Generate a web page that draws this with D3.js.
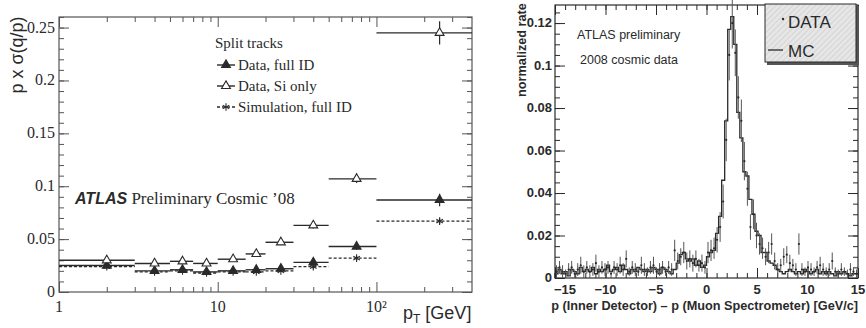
<!DOCTYPE html>
<html>
<head>
<meta charset="utf-8">
<script src="https://cdn.jsdelivr.net/npm/d3@7"></script>
<style>
body { margin: 0; background: #fff; }
svg { display: block; }
</style>
</head>
<body>
<svg id="chart" width="866" height="328"></svg>
<script>
// ---- left panel: momentum resolution of split tracks ----
var ptEdges = [1, 3, 5, 7, 10, 15, 20, 30, 50, 100, 400];
var dataFullId    = [0.025, 0.020, 0.021, 0.019, 0.020, 0.021, 0.022, 0.028, 0.043, 0.087];
var dataFullIdErr = [0.001, 0.001, 0.001, 0.001, 0.001, 0.001, 0.002, 0.002, 0.003, 0.006];
var dataSiOnly    = [0.030, 0.027, 0.029, 0.027, 0.031, 0.036, 0.047, 0.063, 0.107, 0.245];
var dataSiOnlyErr = [0.001, 0.001, 0.001, 0.001, 0.001, 0.002, 0.002, 0.003, 0.004, 0.011];
var simFullId     = [0.024, 0.019, 0.020, 0.018, 0.019, 0.019, 0.020, 0.024, 0.032, 0.067];
var simFullIdErr  = [0.001, 0.001, 0.001, 0.001, 0.001, 0.001, 0.001, 0.002, 0.002, 0.003];
var leftYTicks = [0, 0.05, 0.1, 0.15, 0.2, 0.25];
var leftYTickLabels = ["0", "0.05", "0.1", "0.15", "0.2", "0.25"];
var leftXTicks = [1, 10, 100];
var leftXTickLabels = ["1", "10", "10\u00b2"];
var leftLegendLabels = ["Data, full ID", "Data, Si only", "Simulation, full ID"];

// ---- right panel: p(ID) - p(MS) ----
var diffStart = -15;
var diffBinWidth = 0.3;
var mcRate = [
  0.002, 0.004, 0.002, 0.003, 0.001, 0.004, 0.003, 0.002, 0.005, 0.003,
  0.004, 0.003, 0.005, 0.002, 0.004, 0.003, 0.004, 0.006, 0.003, 0.004,
  0.005, 0.003, 0.006, 0.004, 0.002, 0.004, 0.003, 0.005, 0.004, 0.003,
  0.004, 0.003, 0.005, 0.004, 0.002, 0.005, 0.004, 0.003, 0.002, 0.004,
  0.007, 0.011, 0.012, 0.009, 0.008, 0.009, 0.006, 0.008, 0.005, 0.006,
  0.010, 0.012, 0.013, 0.021, 0.029, 0.046, 0.074, 0.117, 0.123, 0.110,
  0.078, 0.066, 0.050, 0.048, 0.037, 0.030, 0.022, 0.020, 0.012, 0.012,
  0.008, 0.007, 0.006, 0.004, 0.003, 0.002, 0.003, 0.004, 0.003, 0.002,
  0.003, 0.002, 0.004, 0.003, 0.002, 0.003, 0.004, 0.002, 0.003, 0.002,
  0.003, 0.002, 0.001, 0.003, 0.002, 0.003, 0.002, 0.001, 0.002, 0.002
];
var dataRate = [
  0.003, 0.005, 0.003, 0.002, 0.004, 0.005, 0.002, 0.004, 0.006, 0.003,
  0.005, 0.003, 0.004, 0.007, 0.003, 0.005, 0.004, 0.005, 0.002, 0.005,
  0.004, 0.006, 0.004, 0.009, 0.003, 0.005, 0.004, 0.003, 0.006, 0.004,
  0.003, 0.005, 0.006, 0.003, 0.004, 0.005, 0.003, 0.005, 0.004, 0.013,
  0.008, 0.010, 0.012, 0.008, 0.009, 0.007, 0.009, 0.006, 0.007, 0.005,
  0.012, 0.013, 0.014, 0.018, 0.024, 0.036, 0.065, 0.105, 0.120, 0.106,
  0.085, 0.074, 0.055, 0.042, 0.024, 0.030, 0.020, 0.016, 0.014, 0.010,
  0.012, 0.016, 0.008, 0.004, 0.006, 0.010, 0.011, 0.007, 0.006, 0.004,
  0.016, 0.004, 0.003, 0.005, 0.004, 0.003, 0.005, 0.006, 0.004, 0.003,
  0.004, 0.008, 0.003, 0.002, 0.004, 0.003, 0.002, 0.004, 0.003, 0.002
];
var dataRateErr = [
  0.003, 0.003, 0.003, 0.002, 0.003, 0.003, 0.002, 0.003, 0.004, 0.003,
  0.003, 0.003, 0.003, 0.004, 0.003, 0.003, 0.003, 0.003, 0.002, 0.003,
  0.003, 0.004, 0.003, 0.004, 0.002, 0.003, 0.003, 0.002, 0.004, 0.003,
  0.002, 0.003, 0.004, 0.002, 0.003, 0.003, 0.002, 0.003, 0.003, 0.005,
  0.004, 0.004, 0.005, 0.004, 0.004, 0.004, 0.004, 0.003, 0.004, 0.003,
  0.005, 0.005, 0.005, 0.006, 0.007, 0.008, 0.010, 0.012, 0.012, 0.011,
  0.010, 0.010, 0.009, 0.008, 0.006, 0.007, 0.006, 0.005, 0.005, 0.004,
  0.005, 0.005, 0.004, 0.003, 0.003, 0.004, 0.004, 0.004, 0.003, 0.003,
  0.005, 0.003, 0.002, 0.003, 0.003, 0.002, 0.003, 0.004, 0.003, 0.002,
  0.003, 0.004, 0.002, 0.002, 0.003, 0.002, 0.002, 0.003, 0.002, 0.002
];
var rightXTicks = [-15, -10, -5, 0, 5, 10, 15];
var rightYTicks = [0, 0.02, 0.04, 0.06, 0.08, 0.1, 0.12];
var rightLegendLabels = ["DATA", "MC"];

var ink = "#2a2a2a";
var chart = d3.select("#chart");

// draws inward-pointing ticks on all four sides of a frame
function frameTicks(g, x, y, xMajor, xMinor, yMajor, yMinor, majLen, minLen, frameColor) {
  var x0 = x.range()[0], x1 = x.range()[1], y0 = y.range()[0], y1 = y.range()[1];
  g.append("g").attr("transform", "translate(0," + y0 + ")")
    .call(d3.axisBottom(x).tickValues(xMinor).tickSize(-minLen).tickSizeOuter(0).tickFormat(""));
  g.append("g").attr("transform", "translate(0," + y0 + ")")
    .call(d3.axisBottom(x).tickValues(xMajor).tickSize(-majLen).tickSizeOuter(0).tickFormat(""));
  g.append("g").attr("transform", "translate(0," + y1 + ")")
    .call(d3.axisTop(x).tickValues(xMinor).tickSize(-minLen).tickSizeOuter(0).tickFormat(""));
  g.append("g").attr("transform", "translate(0," + y1 + ")")
    .call(d3.axisTop(x).tickValues(xMajor).tickSize(-majLen).tickSizeOuter(0).tickFormat(""));
  g.append("g").attr("transform", "translate(" + x0 + ",0)")
    .call(d3.axisLeft(y).tickValues(yMinor).tickSize(-minLen).tickSizeOuter(0).tickFormat(""));
  g.append("g").attr("transform", "translate(" + x0 + ",0)")
    .call(d3.axisLeft(y).tickValues(yMajor).tickSize(-majLen).tickSizeOuter(0).tickFormat(""));
  g.append("g").attr("transform", "translate(" + x1 + ",0)")
    .call(d3.axisRight(y).tickValues(yMinor).tickSize(-minLen).tickSizeOuter(0).tickFormat(""));
  g.append("g").attr("transform", "translate(" + x1 + ",0)")
    .call(d3.axisRight(y).tickValues(yMajor).tickSize(-majLen).tickSizeOuter(0).tickFormat(""));
  g.selectAll(".domain").remove();
  g.selectAll(".tick line").attr("stroke", frameColor);
  g.append("rect")
    .attr("x", x0).attr("y", y1).attr("width", x1 - x0).attr("height", y0 - y1)
    .attr("fill", "none").attr("stroke", frameColor).attr("stroke-width", 1.2);
}

// ================= left panel =================
var xL = d3.scaleLog().domain([1, 400]).range([59, 472]);
var yL = d3.scaleLinear().domain([0, 0.26]).range([292, 17]);
var left = chart.append("g");

var logMinor = [];
[1, 10, 100].forEach(function(dec) {
  for (var k = 2; k <= 9; k++) if (dec * k < 400) logMinor.push(dec * k);
});
frameTicks(left, xL, yL, leftXTicks, logMinor,
  leftYTicks, d3.range(0, 0.2601, 0.01), 10, 5, "#555");

left.append("g").selectAll("text").data(leftYTicks).join("text")
  .attr("x", 55).attr("y", function(d) { return yL(d) + 5; })
  .attr("text-anchor", "end")
  .style("font", "16px 'Liberation Serif', 'DejaVu Serif', serif").attr("fill", ink)
  .text(function(d, i) { return leftYTickLabels[i]; });

left.append("g").selectAll("text").data(leftXTicks).join("text")
  .attr("x", function(d) { return xL(d); }).attr("y", 312)
  .attr("text-anchor", "middle")
  .style("font", "16px 'Liberation Serif', 'DejaVu Serif', serif").attr("fill", ink)
  .text(function(d, i) { return leftXTickLabels[i]; });

left.append("text")
  .attr("transform", "translate(23,55) rotate(-90)")
  .attr("text-anchor", "middle")
  .style("font", "18px 'Liberation Sans', Arial, sans-serif").attr("fill", ink)
  .text("p x \u03c3(q/p)");

var ptTitle = left.append("text").attr("x", 403).attr("y", 319)
  .style("font", "18px 'Liberation Sans', Arial, sans-serif").attr("fill", ink);
ptTitle.append("tspan").text("p");
ptTitle.append("tspan").attr("dy", 4).style("font-size", "12px").text("T");
ptTitle.append("tspan").attr("dy", -4).text(" [GeV]");

var atlasL = left.append("text").attr("x", 75).attr("y", 204).attr("fill", ink);
atlasL.append("tspan").style("font", "italic bold 16px 'Liberation Sans', Arial, sans-serif").text("ATLAS");
atlasL.append("tspan").style("font", "17px 'Liberation Serif', serif").text(" Preliminary Cosmic \u201908");

var leftSeries = [
  { values: dataFullId, errs: dataFullIdErr, symbol: d3.symbolTriangle, fill: ink, dash: null },
  { values: dataSiOnly, errs: dataSiOnlyErr, symbol: d3.symbolTriangle, fill: "#fff", dash: null },
  { values: simFullId, errs: simFullIdErr, symbol: d3.symbolAsterisk, fill: "none", dash: "3,2" }
];

leftSeries.forEach(function(s) {
  var g = left.append("g");
  var bins = s.values.map(function(v, i) {
    return { lo: ptEdges[i], hi: ptEdges[i + 1], v: v, e: s.errs[i] };
  });
  g.selectAll("line.h").data(bins).join("line").attr("class", "h")
    .attr("x1", function(d) { return xL(d.lo); }).attr("x2", function(d) { return xL(d.hi); })
    .attr("y1", function(d) { return yL(d.v); }).attr("y2", function(d) { return yL(d.v); })
    .attr("stroke", ink).attr("stroke-width", 1.4).attr("stroke-dasharray", s.dash);
  g.selectAll("line.v").data(bins).join("line").attr("class", "v")
    .attr("x1", function(d) { return xL((d.lo + d.hi) / 2); }).attr("x2", function(d) { return xL((d.lo + d.hi) / 2); })
    .attr("y1", function(d) { return yL(d.v - d.e); }).attr("y2", function(d) { return yL(d.v + d.e); })
    .attr("stroke", ink).attr("stroke-width", 1.2);
  g.selectAll("path").data(bins).join("path")
    .attr("transform", function(d) { return "translate(" + xL((d.lo + d.hi) / 2) + "," + yL(d.v) + ")"; })
    .attr("d", d3.symbol(s.symbol, s.symbol === d3.symbolAsterisk ? 40 : 34))
    .attr("fill", s.fill).attr("stroke", ink).attr("stroke-width", 1.1);
});

// legend
var legL = left.append("g");
legL.append("text").attr("x", 215).attr("y", 48)
  .style("font", "15px 'Liberation Serif', serif").attr("fill", ink).text("Split tracks");
leftSeries.forEach(function(s, i) {
  var ly = 65 + i * 21;
  legL.append("line").attr("x1", 217).attr("x2", 235).attr("y1", ly).attr("y2", ly)
    .attr("stroke", ink).attr("stroke-width", 1.4).attr("stroke-dasharray", s.dash);
  legL.append("path").attr("transform", "translate(226," + ly + ")")
    .attr("d", d3.symbol(s.symbol, s.symbol === d3.symbolAsterisk ? 40 : 34))
    .attr("fill", s.fill).attr("stroke", ink).attr("stroke-width", 1.1);
  legL.append("text").attr("x", 238).attr("y", ly + 5)
    .style("font", "15px 'Liberation Serif', serif").attr("fill", ink).text(leftLegendLabels[i]);
});

// ================= right panel =================
var xR = d3.scaleLinear().domain([-15, 15]).range([555, 858]);
var yR = d3.scaleLinear().domain([0, 0.1285]).range([278, 5]);
var right = chart.append("g");

frameTicks(right, xR, yR, rightXTicks, d3.range(-15, 15.01, 1),
  rightYTicks, d3.range(0, 0.1286, 0.005), 10, 5, ink);

var boldSans = "bold 13px 'Liberation Sans', Arial, sans-serif";
right.append("g").selectAll("text").data(rightYTicks).join("text")
  .attr("x", 552).attr("y", function(d) { return yR(d) + 4; })
  .attr("text-anchor", "end").style("font", boldSans).attr("fill", ink)
  .text(function(d) { return d === 0 ? "0" : d3.format(".2~f")(d); });
// first label is pushed right so it clears the "0" of the y axis
right.append("g").selectAll("text").data(rightXTicks).join("text")
  .attr("x", function(d, i) { return i === 0 ? xR(d) - 1 : xR(d); }).attr("y", 294)
  .attr("text-anchor", function(d, i) { return i === 0 ? "start" : "middle"; })
  .style("font", boldSans).attr("fill", ink)
  .text(function(d) { return d < 0 ? "\u2212" + Math.abs(d) : d; });

right.append("text").attr("x", 858).attr("y", 310).attr("text-anchor", "end")
  .style("font", "bold 12.7px 'Liberation Sans', Arial, sans-serif").attr("fill", ink)
  .text("p (Inner Detector) \u2013 p (Muon Spectrometer) [GeV/c]");
right.append("text")
  .attr("transform", "translate(526,50) rotate(-90)").attr("text-anchor", "middle")
  .style("font", "bold 12.7px 'Liberation Sans', Arial, sans-serif").attr("fill", ink)
  .text("normalized rate");

right.append("text").attr("x", 577).attr("y", 39)
  .style("font", "12.5px 'Liberation Sans', Arial, sans-serif").attr("fill", ink).text("ATLAS preliminary");
right.append("text").attr("x", 580).attr("y", 64)
  .style("font", "12.5px 'Liberation Sans', Arial, sans-serif").attr("fill", ink).text("2008 cosmic data");

// MC histogram as step outline
var mcBins = mcRate.map(function(v, i) {
  return { lo: diffStart + i * diffBinWidth, v: v };
});
var stepPts = [[diffStart, 0]];
mcBins.forEach(function(d) { stepPts.push([d.lo, d.v]); });
stepPts.push([diffStart + mcRate.length * diffBinWidth, mcRate[mcRate.length - 1]]);
right.append("path")
  .attr("d", d3.line().x(function(d) { return xR(d[0]); }).y(function(d) { return yR(d[1]); })
    .curve(d3.curveStepAfter)(stepPts))
  .attr("fill", "none").attr("stroke", ink).attr("stroke-width", 1.3);

// data points with vertical error bars
var dataPts = dataRate.map(function(v, i) {
  return { c: diffStart + (i + 0.5) * diffBinWidth, v: v, e: dataRateErr[i] };
});
var dg = right.append("g");
dg.selectAll("line").data(dataPts).join("line")
  .attr("x1", function(d) { return xR(d.c); }).attr("x2", function(d) { return xR(d.c); })
  .attr("y1", function(d) { return yR(Math.max(0, d.v - d.e)); })
  .attr("y2", function(d) { return yR(d.v + d.e); })
  .attr("stroke", "#555").attr("stroke-width", 1);
dg.selectAll("circle").data(dataPts).join("circle")
  .attr("cx", function(d) { return xR(d.c); }).attr("cy", function(d) { return yR(d.v); })
  .attr("r", 1.1).attr("fill", ink);

// legend box with hatched fill
var defs = chart.append("defs");
var pat = defs.append("pattern").attr("id", "hatch").attr("width", 4).attr("height", 4)
  .attr("patternUnits", "userSpaceOnUse").attr("patternTransform", "rotate(45)");
pat.append("rect").attr("width", 4).attr("height", 4).attr("fill", "#e6e6e6");
pat.append("line").attr("x1", 0).attr("y1", 0).attr("x2", 0).attr("y2", 4)
  .attr("stroke", "#cfcfcf").attr("stroke-width", 1.5);
var legR = right.append("g");
legR.append("rect").attr("x", 767).attr("y", 6).attr("width", 92).attr("height", 59).attr("fill", "#555");
legR.append("rect").attr("x", 765).attr("y", 4).attr("width", 91).attr("height", 58)
  .attr("fill", "url(#hatch)").attr("stroke", ink).attr("stroke-width", 1);
legR.append("circle").attr("cx", 783).attr("cy", 19).attr("r", 1.2).attr("fill", ink);
legR.append("line").attr("x1", 768).attr("x2", 783).attr("y1", 50).attr("y2", 50)
  .attr("stroke", ink).attr("stroke-width", 1.3);
legR.selectAll("text").data(rightLegendLabels).join("text")
  .attr("x", 788).attr("y", function(d, i) { return 28 + i * 29; })
  .style("font", "17px 'Liberation Sans', Arial, sans-serif").attr("fill", ink)
  .text(function(d) { return d; });
</script>
</body>
</html>
